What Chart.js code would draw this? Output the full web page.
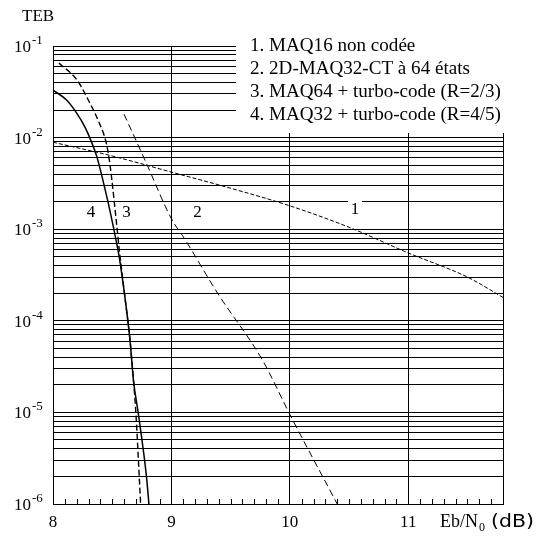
<!DOCTYPE html>
<html>
<head>
<meta charset="utf-8">
<script src="https://cdn.jsdelivr.net/npm/chart.js@4.4.0/dist/chart.umd.min.js"></script>
<style>
  html, body { margin: 0; padding: 0; background: #fff; }
  canvas { display: block; }
</style>
</head>
<body>
<canvas id="teb-chart" width="548" height="536"></canvas>
<script>
// 1. MAQ16 non codée
const maq16X = [8.0, 8.5, 9.0, 9.5, 10.0, 10.5, 11.0, 11.5, 11.8];
const maq16Y = [8.9e-3, 6.3e-3, 4.2e-3, 2.8e-3, 1.8e-3, 1.05e-3, 5.5e-4, 3.0e-4, 1.8e-4];

// 2. 2D-MAQ32-CT à 64 états
const ct64X = [8.60, 8.69, 8.79, 9.0, 9.11, 9.39, 9.77, 10.0, 10.4];
const ct64Y = [1.8e-2, 1.0e-2, 5.2e-3, 1.3e-3, 7.9e-4, 2.0e-4, 3.7e-5, 9.5e-6, 1e-6];

// 3. MAQ64 + turbo-code (R=2/3)
const maq64X = [8.05, 8.20, 8.31, 8.39, 8.45, 8.48, 8.54, 8.56, 8.61, 8.65, 8.68, 8.70, 8.73, 8.74];
const maq64Y = [6.5e-2, 4.3e-2, 2.4e-2, 1.45e-2, 8.7e-3, 5.2e-3, 1.05e-3, 5.9e-4, 1.7e-4, 6.2e-5, 2.2e-5, 9.8e-6, 1.8e-6, 1e-6];

// 4. MAQ32 + turbo-code (R=4/5)
const maq32X = [8.0, 8.11, 8.20, 8.27, 8.32, 8.37, 8.46, 8.52, 8.56, 8.61, 8.65, 8.68, 8.72, 8.79, 8.81];
const maq32Y = [3.3e-2, 2.6e-2, 1.85e-2, 1.3e-2, 9.3e-3, 6.2e-3, 2.1e-3, 9.1e-4, 4.9e-4, 1.7e-4, 6.2e-5, 2.2e-5, 9.8e-6, 1.95e-6, 1e-6];

const legendLabels = [
  '1. MAQ16 non codée',
  '2. 2D-MAQ32-CT à 64 états',
  '3. MAQ64 + turbo-code (R=2/3)',
  '4. MAQ32 + turbo-code (R=4/5)'
];
const curveTags = ['1', '2', '3', '4'];
const curveTagAt = [[10.55, 1.6e-3], [9.22, 1.5e-3], [8.62, 1.5e-3], [8.32, 1.5e-3]];

const xTicks = [8, 9, 10, 11];
const xTickLabels = ['8', '9', '10', '11'];
const yExponents = [-1, -2, -3, -4, -5, -6];
const yMantissas = [1, 2, 3, 4, 5, 6, 7, 8, 9];

const SERIF = "'Liberation Serif', 'Times New Roman', serif";
const INK = '#000';

function points(xs, ys) {
  return xs.map((x, i) => ({x: x, y: ys[i]}));
}

const decorations = {
  id: 'decorations',
  beforeDatasetsDraw(chart) {
    const {ctx, chartArea: a, scales: {x, y}} = chart;
    ctx.save();
    // small inner ticks every 0.1 dB along the bottom
    ctx.strokeStyle = INK;
    ctx.lineWidth = 1;
    for (let k = 81; k < 118; k++) {
      if (k % 10 === 0) continue;
      const px = Math.round(x.getPixelForValue(k / 10)) + 0.5;
      ctx.beginPath();
      ctx.moveTo(px, a.bottom);
      ctx.lineTo(px, a.bottom - 5);
      ctx.stroke();
    }
    // blank box behind the legend
    ctx.fillStyle = '#fff';
    ctx.fillRect(236, a.top - 6, a.right - 236 + 6, 133 - a.top + 6);
    // white patches behind the curve numbers
    curveTagAt.forEach(p => {
      const px = x.getPixelForValue(p[0]);
      const py = y.getPixelForValue(p[1]);
      ctx.fillRect(px - 7, py - 11, 14, 19);
    });
    ctx.restore();
  },
  afterDatasetsDraw(chart) {
    const {ctx, scales: {x, y}} = chart;
    ctx.save();
    ctx.fillStyle = INK;
    ctx.textBaseline = 'middle';
    ctx.textAlign = 'left';
    ctx.font = '18px ' + SERIF;
    legendLabels.forEach((t, i) => {
      ctx.save();
      ctx.translate(250, 46 + i * 23);
      ctx.scale(1.06, 1);
      ctx.fillText(t, 0, 0);
      ctx.restore();
    });
    ctx.textAlign = 'center';
    ctx.font = '17px ' + SERIF;
    curveTags.forEach((t, i) => {
      ctx.fillText(t, x.getPixelForValue(curveTagAt[i][0]), y.getPixelForValue(curveTagAt[i][1]) - 1);
    });
    ctx.restore();
  },
  afterDraw(chart) {
    const {ctx, scales: {x, y}} = chart;
    ctx.save();
    ctx.fillStyle = INK;
    ctx.textBaseline = 'alphabetic';
    // y labels 10^n
    yExponents.forEach(e => {
      const py = y.getPixelForValue(Math.pow(10, e));
      ctx.font = '17px ' + SERIF;
      ctx.textAlign = 'right';
      ctx.fillText('10', 31, py + 6);
      ctx.font = '13px ' + SERIF;
      ctx.textAlign = 'left';
      ctx.fillText('-' + Math.abs(e), 32, py - 2);
    });
    // x labels
    ctx.font = '17px ' + SERIF;
    ctx.textAlign = 'center';
    xTicks.forEach((v, i) => ctx.fillText(xTickLabels[i], x.getPixelForValue(v), 527));
    // axis titles
    ctx.textAlign = 'left';
    ctx.fillText('TEB', 22, 21);
    ctx.font = '18px ' + SERIF;
    ctx.fillText('Eb/N', 440, 527);
    const w = ctx.measureText('Eb/N').width;
    ctx.font = '12px ' + SERIF;
    ctx.fillText('0', 441 + w, 531);
    ctx.save();
    ctx.translate(441 + w + 12, 527);
    ctx.scale(1.2, 1);
    ctx.font = "17px 'DejaVu Sans', sans-serif";
    ctx.fillText('(dB)', 0, 0);
    ctx.restore();
    ctx.restore();
  }
};

const lineStyle = {
  pointRadius: 0,
  borderColor: INK,
  fill: false,
  cubicInterpolationMode: 'monotone'
};

new Chart(document.getElementById('teb-chart'), {
  type: 'line',
  data: {
    datasets: [
      {...lineStyle, label: legendLabels[0], data: points(maq16X, maq16Y), borderWidth: 1, borderDash: [4, 2]},
      {...lineStyle, label: legendLabels[1], data: points(ct64X, ct64Y), borderWidth: 1, borderDash: [7, 4]},
      {...lineStyle, label: legendLabels[2], data: points(maq64X, maq64Y), borderWidth: 1.4, borderDash: [6, 3]},
      {...lineStyle, label: legendLabels[3], data: points(maq32X, maq32Y), borderWidth: 1.5}
    ]
  },
  options: {
    responsive: false,
    animation: false,
    devicePixelRatio: 1,
    layout: {padding: {left: 53, top: 46, right: 45, bottom: 32}},
    plugins: {legend: {display: false}, tooltip: {enabled: false}},
    scales: {
      x: {
        type: 'linear',
        min: 8,
        max: 11.8,
        afterBuildTicks: s => { s.ticks = xTicks.concat([11.8]).map(v => ({value: v})); },
        ticks: {display: false},
        grid: {color: INK, lineWidth: 1, drawTicks: false},
        border: {color: INK, width: 1}
      },
      y: {
        type: 'logarithmic',
        min: 1e-6,
        max: 1e-1,
        afterBuildTicks: s => {
          const t = [];
          yExponents.slice().reverse().forEach(e => {
            yMantissas.forEach(m => {
              const v = m * Math.pow(10, e - 1);
              if (v >= 1e-6 && v <= 1e-1) t.push({value: v});
            });
          });
          t.push({value: 1e-1});
          s.ticks = t;
        },
        ticks: {display: false},
        grid: {color: INK, lineWidth: 1, drawTicks: false},
        border: {color: INK, width: 1}
      }
    }
  },
  plugins: [decorations]
});
</script>
</body>
</html>
